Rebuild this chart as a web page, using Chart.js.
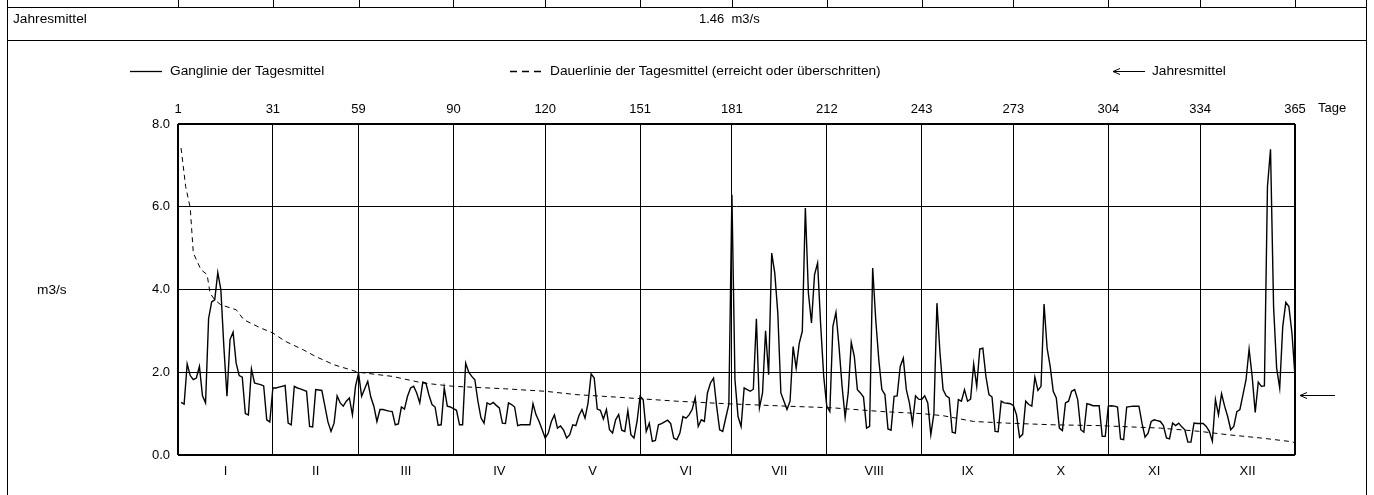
<!DOCTYPE html>
<html lang="de">
<head>
<meta charset="UTF-8">
<title>Ganglinie der Tagesmittel</title>
<script src="https://cdn.jsdelivr.net/npm/chart.js@4.4.0/dist/chart.umd.min.js"></script>
<style>
    body {
        margin: 0;
        width: 1374px;
        height: 495px;
        overflow: hidden;
        background: #fff;
        font-family: "Liberation Sans", Arial, sans-serif;
        font-size: 13px;
        color: #000;
    }
    #wrap { position: relative; width: 1374px; height: 495px; }
    canvas { position: absolute; left: 0; top: 0; }
    .t { position: absolute; white-space: nowrap; line-height: 16px; transform: translateY(-50%); }
    .lg { font-size: 13.7px; }
</style>
</head>
<body>
<div id="wrap">
    <canvas id="chart" width="1374" height="495"></canvas>
    <div class="t lg" style="left:13px; top:19px">Jahresmittel</div>
    <div class="t" id="mittelText" style="left:699px; top:19px"></div>
    <div class="t lg" style="left:170px; top:71px">Ganglinie der Tagesmittel</div>
    <div class="t lg" style="left:550px; top:71px">Dauerlinie der Tagesmittel (erreicht oder überschritten)</div>
    <div class="t lg" style="left:1152px; top:71px">Jahresmittel</div>
    <div class="t lg" style="left:37px; top:290px">m3/s</div>
    <div class="t" style="left:1318px; top:108px">Tage</div>
</div>

<script>
    // Tagesmittel m3/s, one array per month
    const jan = [1.27, 1.23, 2.2, 1.92, 1.82, 1.86, 2.14, 1.43, 1.26, 3.3, 3.7, 3.75, 4.41, 4.0, 2.6, 1.42, 2.79, 2.97, 2.22, 1.92, 1.88, 1.0, 0.97, 2.08, 1.74, 1.72, 1.7, 1.67, 0.85, 0.8, 1.62];
    const feb = [1.62, 1.64, 1.66, 1.68, 0.77, 0.73, 1.66, 1.62, 1.6, 1.57, 1.54, 0.69, 0.68, 1.58, 1.57, 1.56, 1.18, 0.8, 0.57, 0.77, 1.43, 1.26, 1.18, 1.3, 1.38, 0.97, 1.66, 1.98];
    const mar = [1.42, 1.6, 1.78, 1.4, 1.18, 0.81, 1.1, 1.1, 1.08, 1.06, 1.05, 0.73, 0.75, 1.16, 1.11, 1.42, 1.62, 1.66, 1.5, 1.26, 1.76, 1.74, 1.45, 1.22, 1.16, 0.72, 0.73, 1.62, 1.18, 1.16, 1.12];
    const apr = [1.08, 0.73, 0.73, 2.22, 2.0, 1.9, 1.82, 1.3, 0.9, 0.77, 1.26, 1.22, 1.27, 1.2, 1.14, 0.77, 0.76, 1.26, 1.22, 1.16, 0.71, 0.73, 0.73, 0.73, 0.73, 1.24, 0.97, 0.81, 0.61, 0.41];
    const mai = [0.53, 0.81, 0.97, 0.65, 0.7, 0.6, 0.41, 0.49, 0.73, 0.71, 0.95, 1.1, 0.89, 1.26, 1.96, 1.86, 1.11, 1.08, 0.87, 1.1, 0.61, 0.53, 0.85, 0.98, 0.6, 0.57, 1.07, 0.49, 0.41, 0.81, 1.42];
    const jun = [1.34, 0.57, 0.77, 0.33, 0.35, 0.73, 0.76, 0.8, 0.84, 0.76, 0.41, 0.37, 0.53, 0.93, 0.89, 0.97, 1.1, 1.38, 0.69, 0.85, 0.81, 1.5, 1.74, 1.86, 1.18, 0.61, 0.57, 0.9, 1.22, 6.29];
    const jul = [1.82, 0.93, 0.69, 1.62, 1.58, 1.54, 1.59, 3.29, 1.14, 1.5, 3.0, 1.94, 4.88, 4.4, 3.43, 1.5, 1.3, 1.1, 1.3, 2.62, 2.1, 2.7, 2.99, 5.97, 3.91, 3.19, 4.36, 4.64, 3.15, 1.9, 1.18];
    const aug = [1.05, 3.11, 3.45, 2.62, 1.66, 0.91, 1.5, 2.72, 2.38, 1.58, 1.5, 1.4, 0.65, 0.69, 4.52, 3.27, 2.3, 1.58, 1.46, 0.63, 0.6, 1.42, 1.43, 2.14, 2.34, 1.58, 1.26, 0.76, 1.43, 1.35, 1.34];
    const sep = [1.43, 1.26, 0.49, 1.0, 3.67, 2.46, 1.58, 1.43, 1.38, 0.55, 0.53, 1.34, 1.3, 1.58, 1.3, 1.35, 2.2, 1.66, 2.56, 2.58, 1.9, 1.46, 1.4, 0.57, 0.56, 1.3, 1.26, 1.25, 1.24, 1.19];
    const okt = [0.97, 0.43, 0.5, 1.3, 1.22, 1.18, 1.88, 1.56, 1.66, 3.65, 2.58, 2.14, 1.54, 1.38, 0.65, 0.59, 1.26, 1.3, 1.54, 1.58, 1.34, 0.61, 0.55, 1.24, 1.22, 1.19, 1.19, 1.19, 0.45, 0.45, 1.18];
    const nov = [1.19, 1.18, 1.16, 0.39, 0.37, 1.16, 1.17, 1.18, 1.18, 1.18, 0.77, 0.43, 0.53, 0.81, 0.85, 0.83, 0.81, 0.71, 0.41, 0.39, 0.77, 0.71, 0.77, 0.68, 0.61, 0.31, 0.31, 0.77, 0.76, 0.76];
    const dez = [0.76, 0.69, 0.57, 0.33, 1.34, 0.97, 1.48, 1.18, 0.93, 0.61, 0.69, 1.05, 1.1, 1.46, 1.82, 2.56, 1.9, 1.03, 1.76, 1.66, 1.67, 6.49, 7.39, 3.59, 2.1, 1.62, 3.11, 3.69, 3.59, 2.95, 1.9];

    // Dauerlinie read at some days
    const dauerTage = [1, 2.5, 4, 5, 7.5, 9.5, 10.5, 12, 14, 19, 21.5, 27, 31, 35, 41, 45, 51, 59, 70, 80, 90, 107, 120, 130, 143, 163, 179, 199, 214, 230, 243, 250, 260, 271, 286, 301, 321, 334, 343, 354, 363, 365];
    const dauerWerte = [7.42, 6.49, 5.97, 4.88, 4.48, 4.36, 3.91, 3.75, 3.63, 3.51, 3.27, 3.07, 2.95, 2.75, 2.54, 2.38, 2.18, 2.0, 1.9, 1.74, 1.66, 1.6, 1.54, 1.46, 1.4, 1.3, 1.24, 1.18, 1.14, 1.05, 1.0, 0.95, 0.81, 0.77, 0.73, 0.71, 0.65, 0.57, 0.49, 0.41, 0.33, 0.3];

    const jahresmittel = 1.46;
    const tageTicks = [0, 31, 59, 90, 120, 151, 181, 212, 243, 273, 304, 334, 365];
    const monate = ['I', 'II', 'III', 'IV', 'V', 'VI', 'VII', 'VIII', 'IX', 'X', 'XI', 'XII'];
    const yTicks = [0, 2, 4, 6, 8];

    document.getElementById('mittelText').innerHTML = jahresmittel.toFixed(2) + '&nbsp;&nbsp;m3/s';

    const tagesmittel = [].concat(jan, feb, mar, apr, mai, jun, jul, aug, sep, okt, nov, dez);
    const font = { family: '"Liberation Sans", Arial, sans-serif', size: 13 };

    // frame lines, legend samples and the Jahresmittel arrow
    const framePlugin = {
        id: 'frame',
        afterDraw(chart) {
            const ctx = chart.ctx;
            const area = chart.chartArea;
            const xs = chart.scales.x;
            ctx.save();
            ctx.strokeStyle = '#000';
            ctx.lineWidth = 1;
            ctx.beginPath();
            ctx.moveTo(7.5, 0); ctx.lineTo(7.5, 495);
            ctx.moveTo(1366.5, 0); ctx.lineTo(1366.5, 495);
            ctx.moveTo(7, 7.5); ctx.lineTo(1367, 7.5);
            ctx.moveTo(7, 40.5); ctx.lineTo(1367, 40.5);
            tageTicks.forEach(d => {
                const px = Math.round(xs.getPixelForValue(d)) + 0.5;
                ctx.moveTo(px, 0); ctx.lineTo(px, 7);
            });
            ctx.stroke();

            // legend samples
            ctx.lineWidth = 1.3;
            ctx.beginPath();
            ctx.moveTo(130, 71.5); ctx.lineTo(162, 71.5);
            ctx.stroke();
            ctx.setLineDash([7, 5]);
            ctx.beginPath();
            ctx.moveTo(510, 71.5); ctx.lineTo(542, 71.5);
            ctx.stroke();
            ctx.setLineDash([]);
            ctx.lineWidth = 1;
            ctx.beginPath();
            ctx.moveTo(1113, 71.5); ctx.lineTo(1145, 71.5);
            ctx.moveTo(1113, 71.5); ctx.lineTo(1120, 68.5);
            ctx.moveTo(1113, 71.5); ctx.lineTo(1120, 74.5);
            ctx.stroke();

            // Jahresmittel arrow right of plot
            const ym = Math.round(chart.scales.y.getPixelForValue(jahresmittel)) + 0.5;
            const x0 = area.right + 5;
            ctx.beginPath();
            ctx.moveTo(x0, ym); ctx.lineTo(x0 + 35, ym);
            ctx.moveTo(x0, ym); ctx.lineTo(x0 + 7, ym - 3);
            ctx.moveTo(x0, ym); ctx.lineTo(x0 + 7, ym + 3);
            ctx.stroke();
            ctx.restore();
        }
    };

    new Chart(document.getElementById('chart'), {
        type: 'line',
        data: {
            datasets: [
                {
                    label: 'Ganglinie der Tagesmittel',
                    data: tagesmittel.map((v, i) => ({ x: i + 1, y: v })),
                    borderColor: '#000',
                    borderWidth: 1.4,
                    pointRadius: 0,
                    tension: 0
                },
                {
                    label: 'Dauerlinie der Tagesmittel',
                    data: dauerTage.map((d, i) => ({ x: d, y: dauerWerte[i] })),
                    borderColor: '#000',
                    borderWidth: 1,
                    borderDash: [5, 4],
                    pointRadius: 0,
                    tension: 0
                }
            ]
        },
        options: {
            responsive: false,
            animation: false,
            layout: { padding: { left: 148, right: 79, top: 104, bottom: 15 } },
            plugins: { legend: { display: false }, tooltip: { enabled: false } },
            scales: {
                x: {
                    type: 'linear',
                    position: 'bottom',
                    min: 0,
                    max: 365,
                    afterBuildTicks: s => { s.ticks = monate.map((m, i) => ({ value: (tageTicks[i] + tageTicks[i + 1]) / 2 })); },
                    afterFit: s => { s.height = 25; },
                    ticks: { callback: (v, i) => monate[i], font: font, color: '#000', padding: 9, maxRotation: 0, autoSkip: false },
                    grid: { display: false, drawTicks: false },
                    border: { display: false }
                },
                xTop: {
                    type: 'linear',
                    position: 'top',
                    min: 0,
                    max: 365,
                    afterBuildTicks: s => { s.ticks = tageTicks.map(v => ({ value: v })); },
                    afterFit: s => { s.height = 20; },
                    ticks: { callback: v => v === 0 ? '1' : String(v), font: font, color: '#000', padding: 7, maxRotation: 0, autoSkip: false },
                    grid: {
                        color: '#000',
                        lineWidth: c => (c.tick && (c.tick.value === 0 || c.tick.value === 365)) ? 2 : 1,
                        drawTicks: false
                    },
                    border: { display: false }
                },
                y: {
                    min: 0,
                    max: 8,
                    afterBuildTicks: s => { s.ticks = yTicks.map(v => ({ value: v })); },
                    afterFit: s => { s.width = 30; },
                    ticks: { callback: v => v.toFixed(1), font: font, color: '#000', padding: 8 },
                    grid: {
                        color: '#000',
                        lineWidth: c => (c.tick && (c.tick.value === 0 || c.tick.value === 8)) ? 2 : 1,
                        drawTicks: false
                    },
                    border: { display: false }
                }
            }
        },
        plugins: [framePlugin]
    });
</script>
</body>
</html>
